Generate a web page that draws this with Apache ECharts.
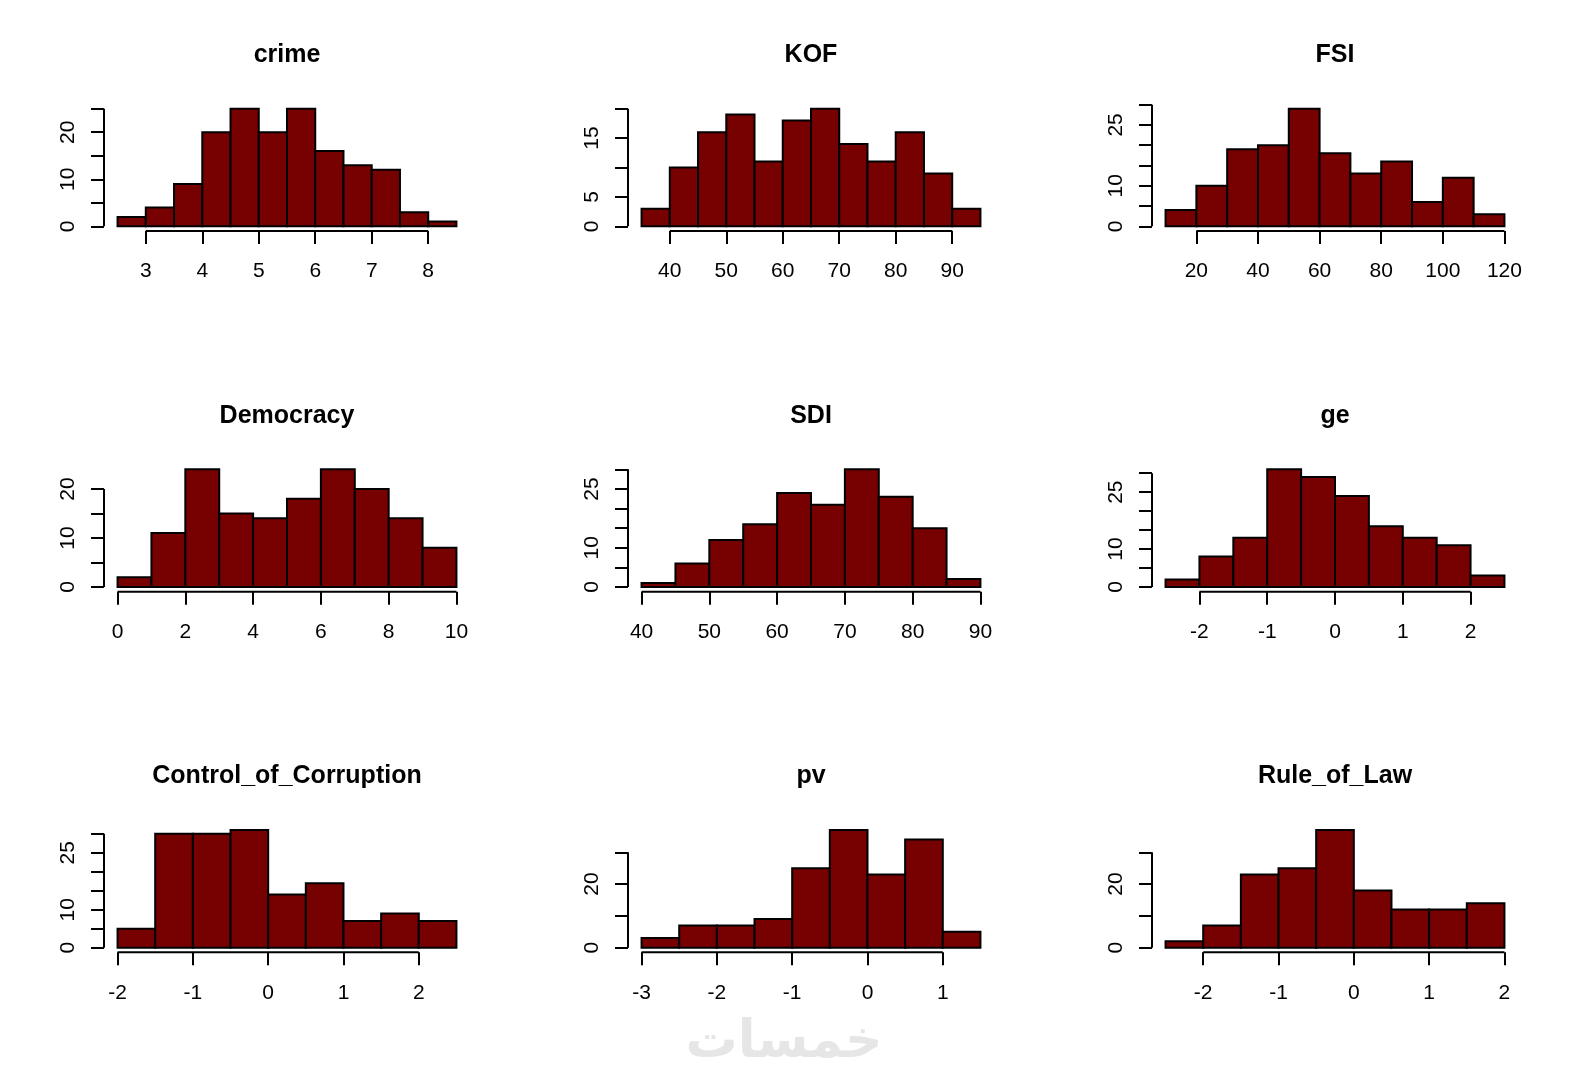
<!DOCTYPE html>
<html>
<head>
<meta charset="utf-8">
<script src="https://cdn.jsdelivr.net/npm/echarts@6/dist/echarts.min.js"></script>
<style>
html,body{margin:0;padding:0;background:#fff;}
#chart{width:1572px;height:1082px;}
</style>
</head>
<body>
<div id="chart"></div>
<script>
// ---------- data ----------
const crimeBreaks = [2.5,3,3.5,4,4.5,5,5.5,6,6.5,7,7.5,8,8.5];
const crimeCounts = [2,4,9,20,25,20,25,16,13,12,3,1];
const crimeXTicks = [3,4,5,6,7,8];
const crimeYTicks = [0,5,10,15,20,25];
const crimeYLabels = [0,10,20];

const kofBreaks = [35,40,45,50,55,60,65,70,75,80,85,90,95];
const kofCounts = [3,10,16,19,11,18,20,14,11,16,9,3];
const kofXTicks = [40,50,60,70,80,90];
const kofYTicks = [0,5,10,15,20];
const kofYLabels = [0,5,15];

const fsiBreaks = [10,20,30,40,50,60,70,80,90,100,110,120];
const fsiCounts = [4,10,19,20,29,18,13,16,6,12,3];
const fsiXTicks = [20,40,60,80,100,120];
const fsiYTicks = [0,5,10,15,20,25,30];
const fsiYLabels = [0,10,25];

const demBreaks = [0,1,2,3,4,5,6,7,8,9,10];
const demCounts = [2,11,24,15,14,18,24,20,14,8];
const demXTicks = [0,2,4,6,8,10];
const demYTicks = [0,5,10,15,20];
const demYLabels = [0,10,20];

const sdiBreaks = [40,45,50,55,60,65,70,75,80,85,90];
const sdiCounts = [1,6,12,16,24,21,30,23,15,2];
const sdiXTicks = [40,50,60,70,80,90];
const sdiYTicks = [0,5,10,15,20,25,30];
const sdiYLabels = [0,10,25];

const geBreaks = [-2.5,-2,-1.5,-1,-0.5,0,0.5,1,1.5,2,2.5];
const geCounts = [2,8,13,31,29,24,16,13,11,3];
const geXTicks = [-2,-1,0,1,2];
const geYTicks = [0,5,10,15,20,25,30];
const geYLabels = [0,10,25];

const cocBreaks = [-2,-1.5,-1,-0.5,0,0.5,1,1.5,2,2.5];
const cocCounts = [5,30,30,31,14,17,7,9,7];
const cocXTicks = [-2,-1,0,1,2];
const cocYTicks = [0,5,10,15,20,25,30];
const cocYLabels = [0,10,25];

const pvBreaks = [-3,-2.5,-2,-1.5,-1,-0.5,0,0.5,1,1.5];
const pvCounts = [3,7,7,9,25,37,23,34,5];
const pvXTicks = [-3,-2,-1,0,1];
const pvYTicks = [0,10,20,30];
const pvYLabels = [0,20];

const rolBreaks = [-2.5,-2,-1.5,-1,-0.5,0,0.5,1,1.5,2];
const rolCounts = [2,7,23,25,37,18,12,12,14];
const rolXTicks = [-2,-1,0,1,2];
const rolYTicks = [0,10,20,30];
const rolYLabels = [0,20];

const titles = ['crime','KOF','FSI','Democracy','SDI','ge','Control_of_Corruption','pv','Rule_of_Law'];

const panels = [
  {breaks:crimeBreaks, counts:crimeCounts, xTicks:crimeXTicks, yTicks:crimeYTicks, yLabels:crimeYLabels},
  {breaks:kofBreaks, counts:kofCounts, xTicks:kofXTicks, yTicks:kofYTicks, yLabels:kofYLabels},
  {breaks:fsiBreaks, counts:fsiCounts, xTicks:fsiXTicks, yTicks:fsiYTicks, yLabels:fsiYLabels},
  {breaks:demBreaks, counts:demCounts, xTicks:demXTicks, yTicks:demYTicks, yLabels:demYLabels},
  {breaks:sdiBreaks, counts:sdiCounts, xTicks:sdiXTicks, yTicks:sdiYTicks, yLabels:sdiYLabels},
  {breaks:geBreaks, counts:geCounts, xTicks:geXTicks, yTicks:geYTicks, yLabels:geYLabels},
  {breaks:cocBreaks, counts:cocCounts, xTicks:cocXTicks, yTicks:cocYTicks, yLabels:cocYLabels},
  {breaks:pvBreaks, counts:pvCounts, xTicks:pvXTicks, yTicks:pvYTicks, yLabels:pvYLabels},
  {breaks:rolBreaks, counts:rolCounts, xTicks:rolXTicks, yTicks:rolYTicks, yLabels:rolYLabels}
];

// ---------- layout / style ----------
const FONT = "'Liberation Sans', Arial, Helvetica, sans-serif";
const CELL_W = 1572 / 3, CELL_H = 1082 / 3;
const PLOT_L = 104, PLOT_T = 104, PLOT_W = 366, PLOT_H = 127;
const BAR_FILL = '#770000';

const grids = [], xAxes = [], yAxes = [], series = [], graphics = [];

panels.forEach((p, i) => {
  const col = i % 3, row = Math.floor(i / 3);
  const left = col * CELL_W + PLOT_L;
  const top = row * CELL_H + PLOT_T;
  grids.push({left: left, top: top, width: PLOT_W, height: PLOT_H, outerBoundsMode: 'none', containLabel: false});

  const b0 = p.breaks[0], bN = p.breaks[p.breaks.length - 1];
  const xr = bN - b0;
  const xMin = b0 - 0.04 * xr, xMax = bN + 0.04 * xr;
  const yTop = Math.max.apply(null, p.counts);
  const yMin = -0.04 * yTop, yMax = 1.04 * yTop;

  xAxes.push({
    gridIndex: i, type: 'value', min: xMin, max: xMax, position: 'bottom',
    axisLine: {show: false, onZero: false},
    splitLine: {show: false},
    axisTick: {show: true, length: 13, customValues: p.xTicks, lineStyle: {color: '#000', width: 2}},
    axisLabel: {show: true, customValues: p.xTicks, margin: 30, color: '#000', fontSize: 21, fontFamily: FONT,
      formatter: v => String(v)}
  });
  yAxes.push({
    gridIndex: i, type: 'value', min: yMin, max: yMax, position: 'left',
    axisLine: {show: false, onZero: false},
    splitLine: {show: false},
    axisTick: {show: true, length: 13, customValues: p.yTicks, lineStyle: {color: '#000', width: 2}},
    axisLabel: {show: true, customValues: p.yLabels, margin: 25, rotate: 90, color: '#000', fontSize: 21, fontFamily: FONT,
      formatter: v => String(v)}
  });

  const barData = p.counts.map((c, k) => [p.breaks[k], p.breaks[k + 1], c]);
  series.push({
    type: 'custom', xAxisIndex: i, yAxisIndex: i, silent: true,
    data: barData,
    renderItem: function (params, api) {
      const p0 = api.coord([api.value(0), 0]);
      const p1 = api.coord([api.value(1), api.value(2)]);
      return {
        type: 'rect',
        shape: {x: p0[0], y: p1[1], width: p1[0] - p0[0], height: p0[1] - p1[1]},
        style: {fill: BAR_FILL, stroke: '#000', lineWidth: 2}
      };
    }
  });
  // R-style axis lines spanning first..last tick
  series.push({
    type: 'custom', xAxisIndex: i, yAxisIndex: i, silent: true,
    data: [[p.xTicks[0], p.xTicks[p.xTicks.length - 1], p.yTicks[0], p.yTicks[p.yTicks.length - 1]]],
    renderItem: function (params, api) {
      const xa = api.coord([api.value(0), yMin]);
      const xb = api.coord([api.value(1), yMin]);
      const ya = api.coord([xMin, api.value(2)]);
      const yb = api.coord([xMin, api.value(3)]);
      return {
        type: 'group',
        children: [
          {type: 'line', shape: {x1: xa[0], y1: xa[1], x2: xb[0], y2: xb[1]}, style: {stroke: '#000', lineWidth: 2}},
          {type: 'line', shape: {x1: ya[0], y1: ya[1], x2: yb[0], y2: yb[1]}, style: {stroke: '#000', lineWidth: 2}}
        ]
      };
    }
  });

  graphics.push({
    type: 'text', x: left + PLOT_W / 2, y: row * CELL_H + 55,
    style: {text: titles[i], fill: '#000', font: "bold 25px " + FONT, textAlign: 'center', textVerticalAlign: 'middle', verticalAlign: 'middle'}
  });
});

graphics.push({
  type: 'text', x: 784, y: 1043,
  style: {text: 'خمسات', fill: '#e6e6e6', font: "bold 52px 'DejaVu Sans', sans-serif", textAlign: 'center', textVerticalAlign: 'middle', verticalAlign: 'middle'}
});

const chart = echarts.init(document.getElementById('chart'));
chart.setOption({
  animation: false,
  backgroundColor: '#fff',
  grid: grids,
  xAxis: xAxes,
  yAxis: yAxes,
  series: series,
  graphic: graphics
});
</script>
</body>
</html>
